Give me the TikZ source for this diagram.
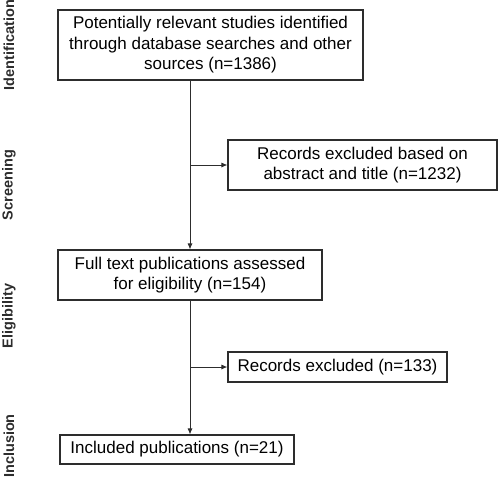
\documentclass[tikz,border=0pt]{standalone}
\usepackage{fontspec}
\setmainfont{Liberation Sans}
\usetikzlibrary{arrows.meta}
\definecolor{linec}{RGB}{45,45,45}
\begin{document}
\begin{tikzpicture}[x=1pt,y=-1pt,
  box/.style={draw=linec, line width=1.1pt, align=center, inner sep=0pt,
    font=\fontsize{17}{20.5}\selectfont, text=black},
  arr/.style={draw=linec, line width=0.9pt, -{Latex[length=6pt,width=5pt]}},
  side/.style={rotate=90, font=\fontsize{14.5}{16}\selectfont\bfseries, text=linec}]
\useasboundingbox (0,0) rectangle (500,480);
\node[box, minimum width=305pt, minimum height=70pt] (b1) at (210.5,45)
  {Potentially relevant studies identified\\through database searches and other\\sources (n=1386)};
\node[box, minimum width=269pt, minimum height=50pt] (b2) at (362.5,165)
  {Records excluded based on\\abstract and title (n=1232)};
\node[box, minimum width=264pt, minimum height=50pt] (b3) at (190,275)
  {Full text publications assessed\\for eligibility (n=154)};
\node[box, minimum width=219pt, minimum height=30pt] (b4) at (337.5,367)
  {Records excluded (n=133)};
\node[box, minimum width=234pt, minimum height=29pt] (b5) at (177,449.5)
  {Included publications (n=21)};
\draw[arr] (b1.south -| b3.north) -- (b3.north);
\draw[arr] (b2.west -| b3.north) -- (b2.west);
\draw[arr] (b3.south) -- (b5.north -| b3.south);
\draw[arr] (b4.west -| b3.south) -- (b4.west);
\node[side] (l1) at (9,45) {Identification};
\node[side] (l2) at (9,185) {Screening};
\node[side] (l3) at (9,316) {Eligibility};
\node[side] (l4) at (9,446) {Inclusion};
\end{tikzpicture}
\end{document}
